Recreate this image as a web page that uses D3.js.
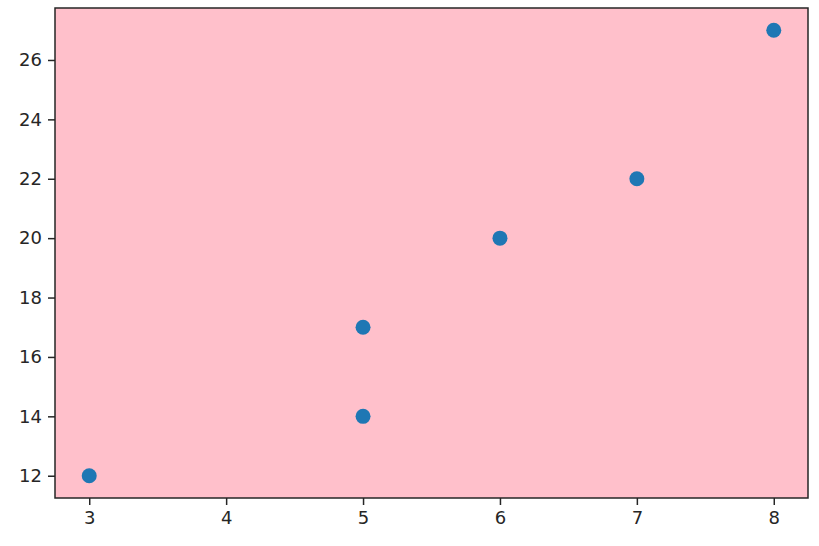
<!DOCTYPE html>
<html><head><meta charset="utf-8">
<script src="https://cdn.jsdelivr.net/npm/d3@7"></script>
<style>body{margin:0;background:#fff}svg{display:block}text{font-family:"DejaVu Sans",sans-serif}</style>
</head><body>
<svg id="c" width="819" height="546"></svg>
<script>
const xs = [3, 5, 5, 6, 7, 8];
const ys = [12, 14, 17, 20, 22, 27];
const xTicks = [3, 4, 5, 6, 7, 8];
const yTicks = [12, 14, 16, 18, 20, 22, 24, 26];

const svg = d3.select("#c");
const m = {l: 55, r: 808, t: 8, b: 498};
const x = d3.scaleLinear().domain([2.75, 8.25]).range([m.l, m.r]);
const y = d3.scaleLinear().domain([11.25, 27.75]).range([m.b, m.t]);

svg.append("rect").attr("x", m.l).attr("y", m.t).attr("width", m.r - m.l).attr("height", m.b - m.t).attr("fill", "#ffc0cb");

svg.selectAll("circle.pt").data(xs.map((d, i) => [d, ys[i]])).enter().append("circle")
  .attr("cx", d => x(d[0])).attr("cy", d => y(d[1])).attr("r", 7.5).attr("fill", "#1f77b4");

const gx = svg.append("g").attr("transform", `translate(0,${m.b})`)
  .call(d3.axisBottom(x).tickValues(xTicks).tickSize(7).tickPadding(6).tickFormat(d3.format("d")));
const gy = svg.append("g").attr("transform", `translate(${m.l},0)`)
  .call(d3.axisLeft(y).tickValues(yTicks).tickSize(7).tickPadding(6).tickFormat(d3.format("d")));
[gx, gy].forEach(g => {
  g.select(".domain").remove();
  g.selectAll("text").attr("font-size", 18).attr("fill", "#262626").style("font-family", "DejaVu Sans");
  g.selectAll("line").attr("stroke", "#262626").attr("stroke-width", 1.5);
});

svg.append("rect").attr("x", m.l).attr("y", m.t).attr("width", m.r - m.l).attr("height", m.b - m.t)
  .attr("fill", "none").attr("stroke", "#262626").attr("stroke-width", 1.5);
</script>
</body></html>
